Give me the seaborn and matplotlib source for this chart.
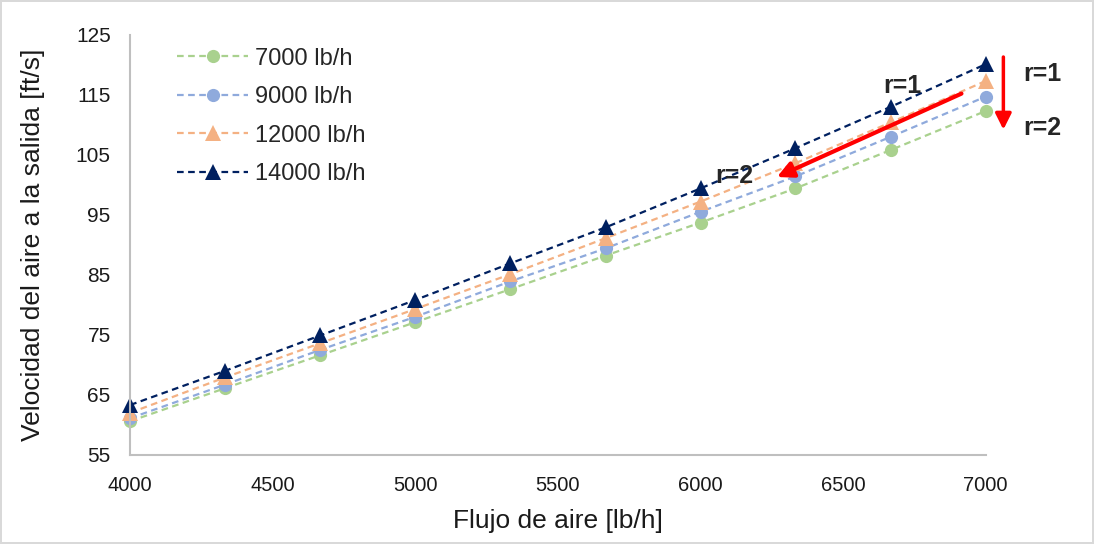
import matplotlib
matplotlib.use("Agg")
import matplotlib.pyplot as plt
import seaborn as sns
import pandas as pd

flujo = [4000, 4333, 4667, 5000, 5333, 5667, 6000, 6333, 6667, 7000]
v_7000 = [60.6, 66.1, 71.6, 77.1, 82.6, 88.2, 93.7, 99.4, 105.8, 112.3]
v_9000 = [61.1, 66.7, 72.5, 78.0, 83.9, 89.4, 95.5, 101.4, 108.0, 114.7]
v_12000 = [62.0, 67.9, 73.6, 79.3, 85.1, 91.1, 97.2, 103.6, 110.4, 117.3]
v_14000 = [63.3, 69.0, 74.9, 80.8, 86.9, 92.9, 99.4, 106.1, 113.0, 120.1]
series_labels = ["7000 lb/h", "9000 lb/h", "12000 lb/h", "14000 lb/h"]
y_ticks = [55, 65, 75, 85, 95, 105, 115, 125]
x_ticks = [4000, 4500, 5000, 5500, 6000, 6500, 7000]

colors = ["#A9D18E", "#8FAADC", "#F4B183", "#002060"]
markers = ["o", "o", "^", "^"]

sns.set_theme(style="white")
plt.rcParams["font.family"] = ["Liberation Sans", "DejaVu Sans"]

fig = plt.figure(figsize=(10.94, 5.44), dpi=100)
ax = fig.add_axes([0.119, 0.164, 0.782, 0.772])

for vals, lab, c, m in zip([v_7000, v_9000, v_12000, v_14000], series_labels, colors, markers):
    df = pd.DataFrame({"x": flujo, "y": vals})
    sns.lineplot(data=df, x="x", y="y", ax=ax, color=c, marker=m,
                 markersize=12 if m == "^" else 9.5, markeredgewidth=0,
                 linestyle=(0, (3, 2)), linewidth=1.6, label=lab, clip_on=False)

ax.set_xlim(4000, 7000)
ax.set_ylim(55, 125)
ax.set_xticks(x_ticks)
ax.set_yticks(y_ticks)
ax.tick_params(axis="x", length=0, labelsize=14.5, colors="#1a1a1a", pad=15)
ax.tick_params(axis="y", length=0, labelsize=15, colors="#1a1a1a", pad=14)
ax.set_xlabel("Flujo de aire [lb/h]", fontsize=19, color="#1a1a1a")
ax.set_ylabel("Velocidad del aire a la salida [ft/s]", fontsize=19, color="#1a1a1a")
ax.xaxis.set_label_coords(0.5, -0.128)
ax.yaxis.set_label_coords(-0.099, 0.5)
for s in ["top", "right"]:
    ax.spines[s].set_visible(False)
for s in ["left", "bottom"]:
    ax.spines[s].set_color("#bfbfbf")
    ax.spines[s].set_linewidth(1.5)

leg = ax.legend(loc="upper left", bbox_to_anchor=(0.03, 1.02), frameon=False,
                fontsize=17, handlelength=3.0, labelspacing=0.7, handletextpad=0.3)

# annotations
ax.annotate("", xy=(6268, 101.3), xytext=(6915, 115.2),
            arrowprops=dict(arrowstyle="-|>", color="#FF0000", lw=3, mutation_scale=24,
                            shrinkA=0, shrinkB=0))
ax.annotate("", xy=(7062, 109.2), xytext=(7062, 121.3), annotation_clip=False,
            arrowprops=dict(arrowstyle="-|>", color="#FF0000", lw=2.5, mutation_scale=24,
                            shrinkA=0, shrinkB=0))
ax.text(6708, 116.5, "r=1", fontsize=18, fontweight="bold", ha="center", va="center")
ax.text(6117, 101.5, "r=2", fontsize=18, fontweight="bold", ha="center", va="center")
ax.text(7200, 118.5, "r=1", fontsize=18, fontweight="bold", ha="center", va="center", clip_on=False)
ax.text(7200, 109.5, "r=2", fontsize=18, fontweight="bold", ha="center", va="center", clip_on=False)

fig.patch.set_edgecolor("#d9d9d9")
fig.patch.set_linewidth(1.5)

fig.savefig("out.png", dpi=100, edgecolor=fig.get_edgecolor())
